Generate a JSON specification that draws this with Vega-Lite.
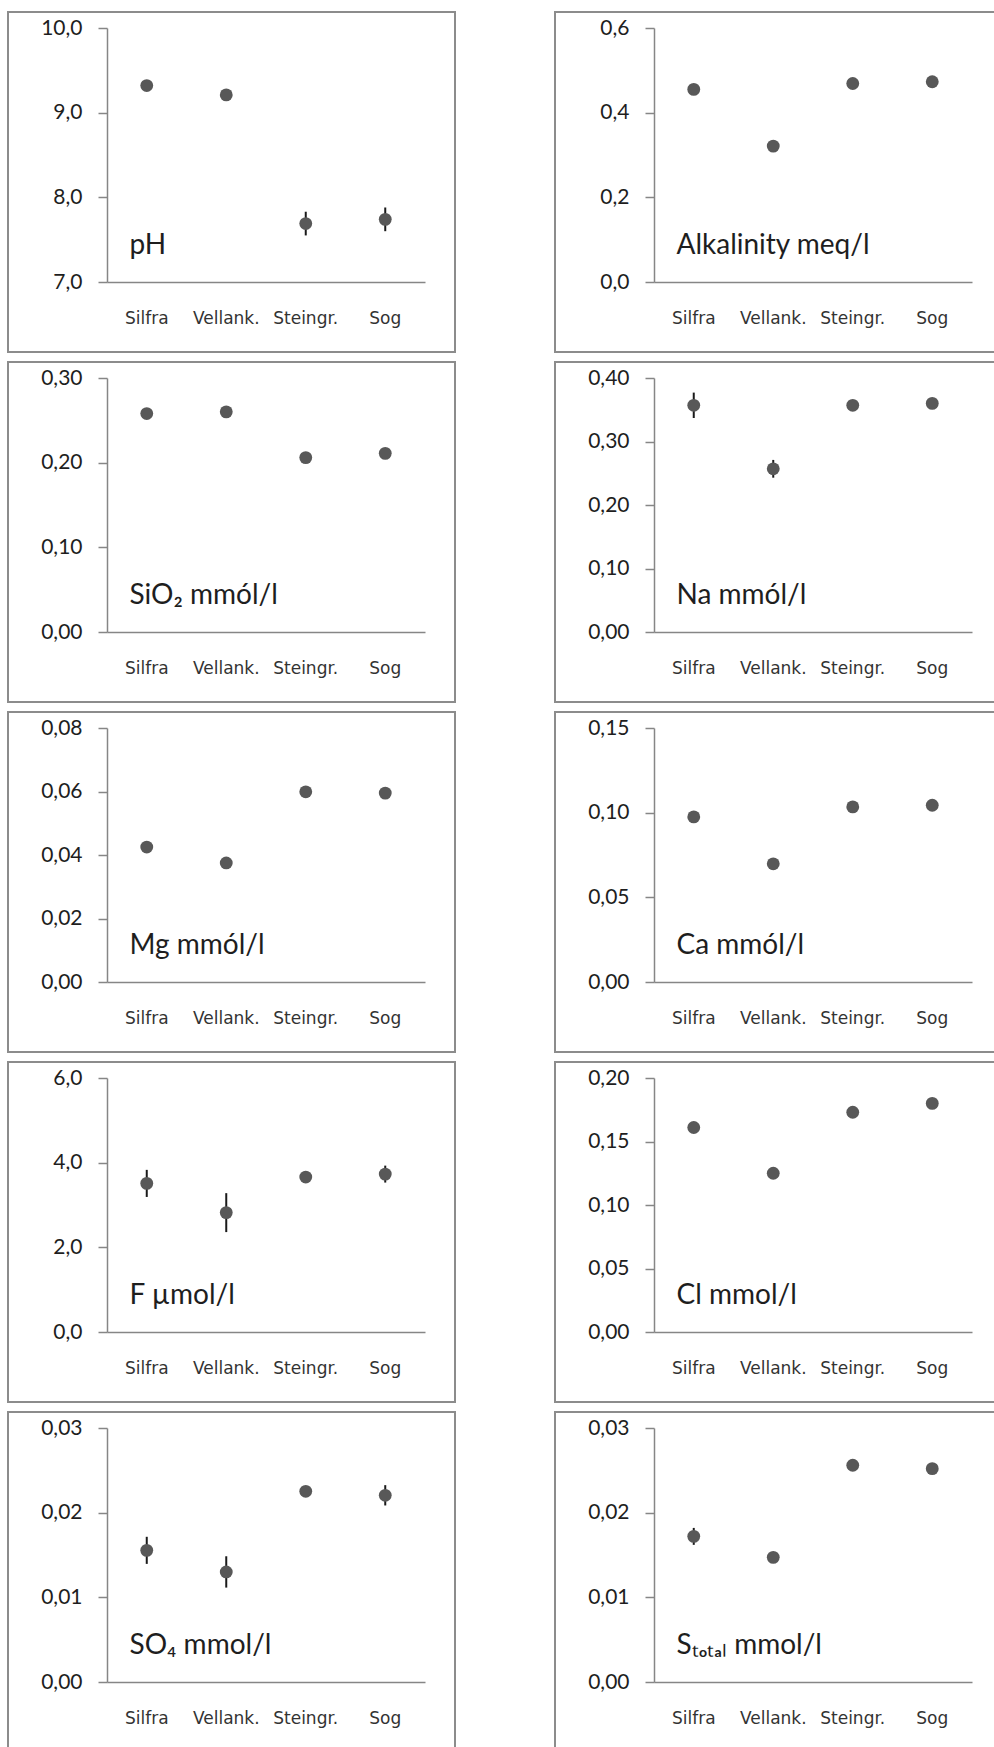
{
  "$schema": "https://vega.github.io/schema/vega-lite/v6.json",
  "padding": {"left": 7, "top": 11, "right": 0, "bottom": 0},
  "background": "white",
  "datasets": {
    "chem": [
      {"param": "pH", "site": "Silfra", "value": 9.32, "err": 0},
      {"param": "pH", "site": "Vellank.", "value": 9.21, "err": 0},
      {"param": "pH", "site": "Steingr.", "value": 7.69, "err": 0.14},
      {"param": "pH", "site": "Sog", "value": 7.74, "err": 0.14},
      {"param": "Alk", "site": "Silfra", "value": 0.455, "err": 0},
      {"param": "Alk", "site": "Vellank.", "value": 0.321, "err": 0},
      {"param": "Alk", "site": "Steingr.", "value": 0.469, "err": 0},
      {"param": "Alk", "site": "Sog", "value": 0.473, "err": 0},
      {"param": "SiO2", "site": "Silfra", "value": 0.258, "err": 0},
      {"param": "SiO2", "site": "Vellank.", "value": 0.26, "err": 0},
      {"param": "SiO2", "site": "Steingr.", "value": 0.206, "err": 0},
      {"param": "SiO2", "site": "Sog", "value": 0.211, "err": 0},
      {"param": "Na", "site": "Silfra", "value": 0.357, "err": 0.02},
      {"param": "Na", "site": "Vellank.", "value": 0.257, "err": 0.014},
      {"param": "Na", "site": "Steingr.", "value": 0.357, "err": 0},
      {"param": "Na", "site": "Sog", "value": 0.36, "err": 0},
      {"param": "Mg", "site": "Silfra", "value": 0.0425, "err": 0},
      {"param": "Mg", "site": "Vellank.", "value": 0.0375, "err": 0},
      {"param": "Mg", "site": "Steingr.", "value": 0.0599, "err": 0},
      {"param": "Mg", "site": "Sog", "value": 0.0595, "err": 0},
      {"param": "Ca", "site": "Silfra", "value": 0.0975, "err": 0},
      {"param": "Ca", "site": "Vellank.", "value": 0.0698, "err": 0},
      {"param": "Ca", "site": "Steingr.", "value": 0.1034, "err": 0},
      {"param": "Ca", "site": "Sog", "value": 0.1044, "err": 0},
      {"param": "F", "site": "Silfra", "value": 3.51, "err": 0.32},
      {"param": "F", "site": "Vellank.", "value": 2.82, "err": 0.46},
      {"param": "F", "site": "Steingr.", "value": 3.66, "err": 0},
      {"param": "F", "site": "Sog", "value": 3.73, "err": 0.2},
      {"param": "Cl", "site": "Silfra", "value": 0.161, "err": 0},
      {"param": "Cl", "site": "Vellank.", "value": 0.125, "err": 0},
      {"param": "Cl", "site": "Steingr.", "value": 0.173, "err": 0},
      {"param": "Cl", "site": "Sog", "value": 0.18, "err": 0},
      {"param": "SO4", "site": "Silfra", "value": 0.01555, "err": 0.0016},
      {"param": "SO4", "site": "Vellank.", "value": 0.013, "err": 0.00185},
      {"param": "SO4", "site": "Steingr.", "value": 0.02252, "err": 0},
      {"param": "SO4", "site": "Sog", "value": 0.02205, "err": 0.0012},
      {"param": "S", "site": "Silfra", "value": 0.0172, "err": 0.001},
      {"param": "S", "site": "Vellank.", "value": 0.01472, "err": 0},
      {"param": "S", "site": "Steingr.", "value": 0.0256, "err": 0},
      {"param": "S", "site": "Sog", "value": 0.0252, "err": 0}
    ]
  },
  "spacing": 8,
  "vconcat": [
    {"spacing": 98, "hconcat": [
      {"width": 447, "height": 340, "data": {"name": "chem"},
       "transform": [{"filter": "datum.param === 'pH'"}],
       "encoding": {
         "x": {"field": "site", "type": "nominal", "sort": ["Silfra", "Vellank.", "Steingr.", "Sog"], "scale": {"domain": ["Silfra", "Vellank.", "Steingr.", "Sog"], "range": [99, 417], "paddingInner": 0, "paddingOuter": 0}, "axis": {"title": null}},
         "y": {"field": "value", "type": "quantitative", "scale": {"domain": [7, 10], "range": [270, 16], "nice": false, "zero": false}, "axis": {"values": [7, 8, 9, 10], "format": ".1f", "title": "pH"}}
       },
       "layer": [
         {"mark": {"type": "errorbar", "color": "#1a1a1a", "thickness": 2}, "encoding": {"yError": {"field": "err"}}},
         {"mark": {"type": "circle", "size": 165, "color": "#585858", "opacity": 1}}
       ]},
      {"width": 447, "height": 340, "data": {"name": "chem"},
       "transform": [{"filter": "datum.param === 'Alk'"}],
       "encoding": {
         "x": {"field": "site", "type": "nominal", "sort": ["Silfra", "Vellank.", "Steingr.", "Sog"], "scale": {"domain": ["Silfra", "Vellank.", "Steingr.", "Sog"], "range": [99, 417], "paddingInner": 0, "paddingOuter": 0}, "axis": {"title": null}},
         "y": {"field": "value", "type": "quantitative", "scale": {"domain": [0, 0.6], "range": [270, 16], "nice": false, "zero": false}, "axis": {"values": [0, 0.2, 0.4, 0.6], "format": ".1f", "title": "Alkalinity meq/l"}}
       },
       "layer": [
         {"mark": {"type": "errorbar", "color": "#1a1a1a", "thickness": 2}, "encoding": {"yError": {"field": "err"}}},
         {"mark": {"type": "circle", "size": 165, "color": "#585858", "opacity": 1}}
       ]}
    ]},
    {"spacing": 98, "hconcat": [
      {"width": 447, "height": 340, "data": {"name": "chem"},
       "transform": [{"filter": "datum.param === 'SiO2'"}],
       "encoding": {
         "x": {"field": "site", "type": "nominal", "sort": ["Silfra", "Vellank.", "Steingr.", "Sog"], "scale": {"domain": ["Silfra", "Vellank.", "Steingr.", "Sog"], "range": [99, 417], "paddingInner": 0, "paddingOuter": 0}, "axis": {"title": null}},
         "y": {"field": "value", "type": "quantitative", "scale": {"domain": [0, 0.3], "range": [270, 16], "nice": false, "zero": false}, "axis": {"values": [0, 0.1, 0.2, 0.3], "format": ".2f", "title": "SiO₂ mmól/l"}}
       },
       "layer": [
         {"mark": {"type": "errorbar", "color": "#1a1a1a", "thickness": 2}, "encoding": {"yError": {"field": "err"}}},
         {"mark": {"type": "circle", "size": 165, "color": "#585858", "opacity": 1}}
       ]},
      {"width": 447, "height": 340, "data": {"name": "chem"},
       "transform": [{"filter": "datum.param === 'Na'"}],
       "encoding": {
         "x": {"field": "site", "type": "nominal", "sort": ["Silfra", "Vellank.", "Steingr.", "Sog"], "scale": {"domain": ["Silfra", "Vellank.", "Steingr.", "Sog"], "range": [99, 417], "paddingInner": 0, "paddingOuter": 0}, "axis": {"title": null}},
         "y": {"field": "value", "type": "quantitative", "scale": {"domain": [0, 0.4], "range": [270, 16], "nice": false, "zero": false}, "axis": {"values": [0, 0.1, 0.2, 0.3, 0.4], "format": ".2f", "title": "Na mmól/l"}}
       },
       "layer": [
         {"mark": {"type": "errorbar", "color": "#1a1a1a", "thickness": 2}, "encoding": {"yError": {"field": "err"}}},
         {"mark": {"type": "circle", "size": 165, "color": "#585858", "opacity": 1}}
       ]}
    ]},
    {"spacing": 98, "hconcat": [
      {"width": 447, "height": 340, "data": {"name": "chem"},
       "transform": [{"filter": "datum.param === 'Mg'"}],
       "encoding": {
         "x": {"field": "site", "type": "nominal", "sort": ["Silfra", "Vellank.", "Steingr.", "Sog"], "scale": {"domain": ["Silfra", "Vellank.", "Steingr.", "Sog"], "range": [99, 417], "paddingInner": 0, "paddingOuter": 0}, "axis": {"title": null}},
         "y": {"field": "value", "type": "quantitative", "scale": {"domain": [0, 0.08], "range": [270, 16], "nice": false, "zero": false}, "axis": {"values": [0, 0.02, 0.04, 0.06, 0.08], "format": ".2f", "title": "Mg mmól/l"}}
       },
       "layer": [
         {"mark": {"type": "errorbar", "color": "#1a1a1a", "thickness": 2}, "encoding": {"yError": {"field": "err"}}},
         {"mark": {"type": "circle", "size": 165, "color": "#585858", "opacity": 1}}
       ]},
      {"width": 447, "height": 340, "data": {"name": "chem"},
       "transform": [{"filter": "datum.param === 'Ca'"}],
       "encoding": {
         "x": {"field": "site", "type": "nominal", "sort": ["Silfra", "Vellank.", "Steingr.", "Sog"], "scale": {"domain": ["Silfra", "Vellank.", "Steingr.", "Sog"], "range": [99, 417], "paddingInner": 0, "paddingOuter": 0}, "axis": {"title": null}},
         "y": {"field": "value", "type": "quantitative", "scale": {"domain": [0, 0.15], "range": [270, 16], "nice": false, "zero": false}, "axis": {"values": [0, 0.05, 0.1, 0.15], "format": ".2f", "title": "Ca mmól/l"}}
       },
       "layer": [
         {"mark": {"type": "errorbar", "color": "#1a1a1a", "thickness": 2}, "encoding": {"yError": {"field": "err"}}},
         {"mark": {"type": "circle", "size": 165, "color": "#585858", "opacity": 1}}
       ]}
    ]},
    {"spacing": 98, "hconcat": [
      {"width": 447, "height": 340, "data": {"name": "chem"},
       "transform": [{"filter": "datum.param === 'F'"}],
       "encoding": {
         "x": {"field": "site", "type": "nominal", "sort": ["Silfra", "Vellank.", "Steingr.", "Sog"], "scale": {"domain": ["Silfra", "Vellank.", "Steingr.", "Sog"], "range": [99, 417], "paddingInner": 0, "paddingOuter": 0}, "axis": {"title": null}},
         "y": {"field": "value", "type": "quantitative", "scale": {"domain": [0, 6], "range": [270, 16], "nice": false, "zero": false}, "axis": {"values": [0, 2, 4, 6], "format": ".1f", "title": "F µmol/l"}}
       },
       "layer": [
         {"mark": {"type": "errorbar", "color": "#1a1a1a", "thickness": 2}, "encoding": {"yError": {"field": "err"}}},
         {"mark": {"type": "circle", "size": 165, "color": "#585858", "opacity": 1}}
       ]},
      {"width": 447, "height": 340, "data": {"name": "chem"},
       "transform": [{"filter": "datum.param === 'Cl'"}],
       "encoding": {
         "x": {"field": "site", "type": "nominal", "sort": ["Silfra", "Vellank.", "Steingr.", "Sog"], "scale": {"domain": ["Silfra", "Vellank.", "Steingr.", "Sog"], "range": [99, 417], "paddingInner": 0, "paddingOuter": 0}, "axis": {"title": null}},
         "y": {"field": "value", "type": "quantitative", "scale": {"domain": [0, 0.2], "range": [270, 16], "nice": false, "zero": false}, "axis": {"values": [0, 0.05, 0.1, 0.15, 0.2], "format": ".2f", "title": "Cl mmol/l"}}
       },
       "layer": [
         {"mark": {"type": "errorbar", "color": "#1a1a1a", "thickness": 2}, "encoding": {"yError": {"field": "err"}}},
         {"mark": {"type": "circle", "size": 165, "color": "#585858", "opacity": 1}}
       ]}
    ]},
    {"spacing": 98, "hconcat": [
      {"width": 447, "height": 340, "data": {"name": "chem"},
       "transform": [{"filter": "datum.param === 'SO4'"}],
       "encoding": {
         "x": {"field": "site", "type": "nominal", "sort": ["Silfra", "Vellank.", "Steingr.", "Sog"], "scale": {"domain": ["Silfra", "Vellank.", "Steingr.", "Sog"], "range": [99, 417], "paddingInner": 0, "paddingOuter": 0}, "axis": {"title": null}},
         "y": {"field": "value", "type": "quantitative", "scale": {"domain": [0, 0.03], "range": [270, 16], "nice": false, "zero": false}, "axis": {"values": [0, 0.01, 0.02, 0.03], "format": ".2f", "title": "SO₄ mmol/l"}}
       },
       "layer": [
         {"mark": {"type": "errorbar", "color": "#1a1a1a", "thickness": 2}, "encoding": {"yError": {"field": "err"}}},
         {"mark": {"type": "circle", "size": 165, "color": "#585858", "opacity": 1}}
       ]},
      {"width": 447, "height": 340, "data": {"name": "chem"},
       "transform": [{"filter": "datum.param === 'S'"}],
       "encoding": {
         "x": {"field": "site", "type": "nominal", "sort": ["Silfra", "Vellank.", "Steingr.", "Sog"], "scale": {"domain": ["Silfra", "Vellank.", "Steingr.", "Sog"], "range": [99, 417], "paddingInner": 0, "paddingOuter": 0}, "axis": {"title": null}},
         "y": {"field": "value", "type": "quantitative", "scale": {"domain": [0, 0.03], "range": [270, 16], "nice": false, "zero": false}, "axis": {"values": [0, 0.01, 0.02, 0.03], "format": ".2f", "title": "Sₜₒₜₐₗ mmol/l"}}
       },
       "layer": [
         {"mark": {"type": "errorbar", "color": "#1a1a1a", "thickness": 2}, "encoding": {"yError": {"field": "err"}}},
         {"mark": {"type": "circle", "size": 165, "color": "#585858", "opacity": 1}}
       ]}
    ]}
  ],
  "config": {
    "locale": {"number": {"decimal": ",", "thousands": ".", "grouping": [3], "currency": ["", ""]}},
    "view": {"stroke": "#8c8c8c", "strokeWidth": 2},
    "axis": {"grid": false, "domainColor": "#868686", "domainWidth": 1.5, "tickColor": "#868686", "tickWidth": 1.5},
    "axisX": {"offset": -70, "ticks": false, "tickSize": 0, "labelFont": "DejaVu Sans", "labelFontSize": 17, "labelColor": "#333333", "labelPadding": 36, "labelBaseline": "middle", "labelAngle": 0},
    "axisY": {"offset": -99, "tickSize": 9, "labelPadding": 16, "labelFont": "Lato", "labelFontSize": 21, "labelColor": "#1e1e1e", "titleAngle": 0, "titleAlign": "left", "titleBaseline": "alphabetic", "titleX": 22, "titleY": 241, "titleFont": "Lato", "titleFontSize": 28, "titleFontWeight": "normal", "titleColor": "#1e1e1e"}
  }
}
